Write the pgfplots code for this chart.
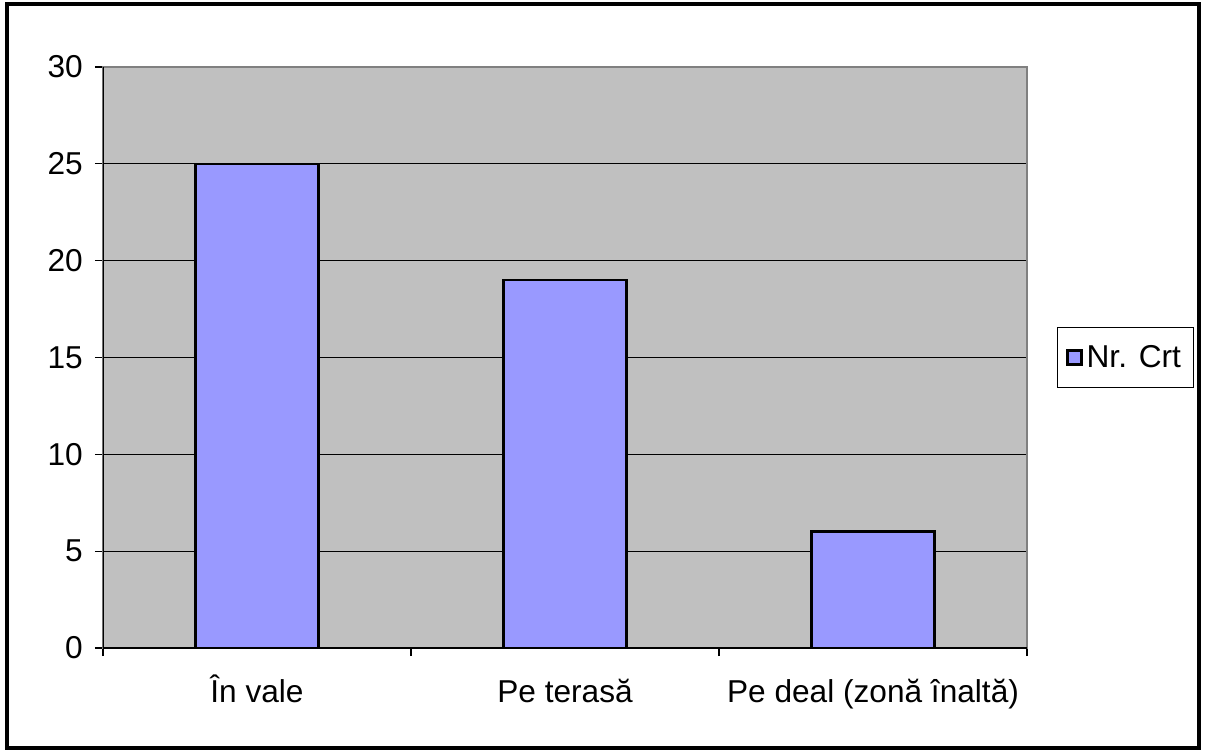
\documentclass[border=0pt]{standalone}
\usepackage{fontspec}
\setmainfont{Liberation Sans}
\usepackage{pgfplots}
\pgfplotsset{compat=1.18}
\definecolor{bgray}{HTML}{C0C0C0}
\definecolor{barblue}{HTML}{9999FF}
\definecolor{framegray}{HTML}{808080}
\begin{document}
\begin{tikzpicture}
\path (-2.06cm,-2.1cm) rectangle (22.06cm,12.96cm);
\draw[line width=1.8pt,black] (-1.92cm,-2cm) rectangle (21.92cm,12.88cm);
\begin{axis}[
  at={(0,0)}, anchor=south west,
  scale only axis,
  width=18.48cm, height=11.62cm,
  xmin=-0.5, xmax=2.5,
  ymin=0, ymax=30,
  ytick={0,5,...,30},
  xtick={0,1,2},
  xticklabels={În vale, Pe terasă, Pe deal (zonă înaltă)},
  minor xtick={-0.5,0.5,1.5,2.5},
  major x tick style={draw=none},
  minor tick length=0.16cm,
  major tick length=0.16cm,
  tick align=outside,
  xtick pos=bottom, ytick pos=left,
  tick style={black, line width=0.6pt},
  ymajorgrids,
  grid style={black, line width=0.6pt},
  axis background/.style={fill=bgray},
  axis line style={framegray, line width=1pt},
  every tick label/.append style={font=\fontsize{18}{21}\selectfont},
  xticklabel style={anchor=base, yshift=-0.93cm},
  yticklabel style={xshift=-0.12cm},
  /pgf/number format/assume math mode=true,
  ybar, bar width=2.46cm,
  legend style={at={(1,0.5)}, anchor=west, xshift=0.6cm, draw=black, line width=0.8pt,
    font=\fontsize{18}{21}\selectfont, inner xsep=5pt, inner ysep=8pt},
  legend image code/.code={\draw[#1, line width=1.5pt] (0cm,-0.14cm) rectangle (0.28cm,0.14cm);},
]
\addplot[fill=barblue, draw=black, line width=1.5pt] coordinates {(0,25) (1,19) (2,6)};
\addlegendentry{Nr. Crt}
\draw[black, line width=1pt] (axis cs:-0.5,0) -- (axis cs:2.5,0);
\draw[black, line width=1pt] (axis cs:-0.5,0) -- (axis cs:-0.5,30);
\end{axis}
\end{tikzpicture}
\end{document}
